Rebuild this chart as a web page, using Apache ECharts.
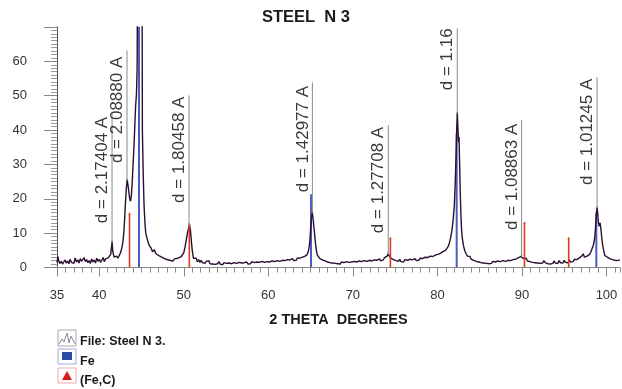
<!DOCTYPE html>
<html>
<head>
<meta charset="utf-8">
<script src="https://cdn.jsdelivr.net/npm/echarts@6/dist/echarts.min.js"></script>
<style>
html,body{margin:0;padding:0;background:#fff;}
#c{width:622px;height:389px;}
</style>
</head>
<body>
<div id="c"></div>
<script>
// ---- DATA ----
const chartTitle = 'STEEL  N 3';
const xName = '2 THETA  DEGREES';
const xTickLabels = [35, 40, 50, 60, 70, 80, 90, 100];
const xMajorTicks = [35, 40, 50, 60, 70, 80, 90, 100];

// measured scan (2theta, intensity)
const scan = [
[35.0,1.4],[35.1,3.2],[35.2,2.0],[35.35,1.2],[35.5,1.8],[35.65,1.0],[35.8,1.6],[35.95,2.2],[36.1,1.3],[36.25,1.9],[36.4,1.1],[36.55,2.4],[36.7,1.5],[36.85,1.9],[37.0,1.2],[37.15,2.8],[37.3,1.6],[37.45,2.2],[37.6,1.3],[37.75,2.6],[37.9,1.8],[38.05,1.4],[38.2,2.9],[38.35,1.7],[38.5,2.3],[38.65,1.4],[38.8,2.0],[38.95,1.2],[39.1,2.5],[39.25,1.6],[39.4,2.2],[39.55,1.3],[39.7,2.7],[39.85,1.8],[40.0,2.4],[40.15,1.5],[40.3,2.1],[40.45,2.9],[40.6,1.7],[40.75,2.5],[40.9,2.0],[41.05,2.8],[41.2,2.3],[41.35,3.8],[41.45,6.0],[41.52,7.5],[41.6,4.6],[41.75,3.0],[41.9,2.6],[42.05,3.3],[42.2,2.7],[42.35,3.5],[42.5,4.2],[42.6,5.0],[42.7,6.0],[42.8,7.5],[42.9,10.0],[43.0,14.0],[43.1,19.0],[43.2,23.0],[43.3,25.5],[43.4,24.0],[43.5,22.0],[43.6,20.0],[43.7,19.3],[43.8,21.0],[43.9,25.0],[44.0,30.0],[44.1,35.0],[44.2,41.0],[44.3,47.0],[44.4,50.5],[44.48,58.0],[44.55,100],[44.8,104],[45.05,100],[45.1,40.0],[45.2,27.0],[45.3,18.0],[45.4,13.0],[45.5,10.0],[45.7,8.0],[45.9,6.5],[46.1,5.8],[46.3,4.6],[46.5,5.2],[46.7,4.0],[46.9,4.4],[47.1,3.4],[47.3,3.8],[47.5,2.9],[47.7,3.3],[47.9,2.4],[48.1,2.9],[48.3,2.1],[48.5,2.6],[48.7,1.9],[48.9,2.5],[49.1,2.0],[49.3,2.7],[49.5,2.4],[49.7,3.2],[49.85,3.6],[50.0,4.3],[50.15,6.0],[50.3,8.2],[50.45,10.2],[50.6,11.8],[50.68,12.4],[50.8,10.5],[50.9,7.5],[51.0,5.0],[51.15,2.6],[51.3,2.2],[51.45,2.8],[51.6,1.7],[51.75,2.3],[51.9,1.5],[52.05,2.1],[52.2,1.4],[52.35,1.9],[52.5,1.2],[52.65,1.8],[52.8,1.3],[52.95,2.0],[53.1,1.1],[53.25,1.6],[53.4,1.0],[53.55,1.5],[53.7,0.9],[53.85,1.4],[54.0,1.1],[54.15,1.7],[54.3,1.0],[54.45,1.3],[54.6,0.8],[54.75,1.4],[54.9,1.0],[55.05,1.2],[55.2,0.8],[55.35,1.3],[55.5,0.9],[55.65,1.1],[55.8,0.8],[55.95,1.4],[56.1,1.0],[56.25,1.2],[56.4,0.9],[56.55,1.5],[56.7,1.0],[56.85,1.3],[57.0,0.9],[57.15,1.4],[57.3,1.1],[57.45,1.6],[57.6,1.0],[57.75,1.3],[57.9,1.1],[58.05,1.7],[58.2,1.2],[58.35,1.4],[58.5,1.0],[58.65,1.6],[58.8,1.2],[58.95,1.5],[59.1,1.1],[59.25,1.8],[59.4,1.3],[59.55,1.5],[59.7,1.1],[59.85,1.7],[60.0,1.3],[60.15,1.6],[60.3,1.2],[60.45,1.9],[60.6,1.4],[60.75,1.7],[60.9,1.3],[61.05,2.0],[61.2,1.5],[61.35,1.8],[61.5,1.4],[61.65,2.1],[61.8,1.6],[61.95,2.0],[62.1,1.7],[62.25,2.3],[62.4,1.8],[62.55,2.2],[62.7,1.9],[62.85,2.6],[63.0,2.0],[63.15,2.4],[63.3,2.1],[63.45,2.8],[63.6,2.3],[63.75,2.7],[63.9,2.4],[64.05,3.0],[64.2,2.7],[64.35,3.3],[64.5,3.2],[64.6,3.8],[64.7,4.5],[64.8,5.5],[64.9,7.5],[65.0,11.0],[65.1,14.5],[65.2,16.0],[65.3,14.0],[65.4,11.5],[65.5,9.0],[65.6,6.5],[65.7,4.7],[65.8,3.6],[65.95,3.1],[66.1,2.6],[66.25,3.0],[66.4,2.2],[66.55,2.6],[66.7,1.9],[66.85,2.3],[67.0,1.6],[67.15,2.0],[67.3,1.4],[67.45,1.9],[67.6,1.3],[67.75,1.7],[67.9,1.2],[68.05,1.6],[68.2,1.1],[68.35,1.5],[68.5,1.0],[68.65,1.6],[68.8,1.2],[68.95,1.4],[69.1,1.1],[69.25,1.7],[69.4,1.2],[69.55,1.5],[69.7,1.1],[69.85,1.6],[70.0,1.2],[70.15,1.8],[70.3,1.3],[70.45,1.6],[70.6,1.2],[70.75,1.9],[70.9,1.4],[71.05,1.7],[71.2,1.3],[71.35,2.0],[71.5,1.5],[71.65,1.8],[71.8,1.4],[71.95,2.1],[72.1,1.6],[72.25,1.9],[72.4,1.5],[72.55,2.2],[72.7,1.7],[72.85,2.1],[73.0,1.8],[73.15,2.5],[73.3,1.9],[73.45,2.4],[73.6,2.2],[73.75,2.9],[73.9,2.6],[74.05,3.3],[74.15,3.9],[74.25,4.2],[74.35,3.6],[74.5,2.7],[74.65,3.2],[74.8,2.3],[74.95,2.8],[75.1,2.0],[75.25,2.5],[75.4,1.8],[75.55,2.4],[75.7,1.7],[75.85,2.2],[76.0,1.6],[76.15,2.3],[76.3,1.8],[76.45,2.1],[76.6,1.6],[76.75,2.4],[76.9,1.9],[77.05,2.2],[77.2,1.8],[77.35,2.6],[77.5,2.0],[77.65,2.4],[77.8,2.1],[77.95,2.7],[78.1,2.2],[78.25,2.6],[78.4,2.3],[78.55,3.0],[78.7,2.5],[78.85,2.9],[79.0,2.6],[79.15,3.3],[79.3,2.8],[79.45,3.2],[79.6,3.0],[79.75,3.6],[79.9,3.2],[80.05,3.8],[80.2,3.5],[80.35,4.1],[80.5,3.9],[80.65,4.6],[80.8,4.4],[80.95,5.0],[81.1,5.3],[81.25,6.0],[81.4,7.0],[81.55,8.5],[81.7,10.5],[81.85,13.5],[82.0,18.0],[82.1,24.0],[82.2,32.0],[82.28,40.0],[82.35,45.0],[82.42,41.0],[82.5,36.5],[82.56,38.0],[82.62,31.0],[82.7,22.0],[82.78,15.5],[82.86,11.0],[82.95,8.5],[83.1,6.2],[83.25,4.8],[83.4,4.0],[83.55,3.3],[83.7,2.9],[83.85,3.2],[84.0,2.4],[84.15,2.8],[84.3,2.1],[84.45,2.5],[84.6,1.8],[84.75,2.2],[84.9,1.6],[85.05,2.0],[85.2,1.4],[85.35,1.9],[85.5,1.3],[85.65,1.7],[85.8,1.2],[85.95,1.6],[86.1,1.1],[86.25,1.5],[86.4,1.2],[86.55,1.8],[86.7,1.3],[86.85,1.6],[87.0,1.2],[87.15,1.9],[87.3,1.4],[87.45,1.7],[87.6,1.3],[87.75,2.0],[87.9,1.5],[88.05,1.8],[88.2,1.4],[88.35,2.1],[88.5,1.6],[88.65,2.0],[88.8,1.7],[88.95,2.3],[89.1,1.9],[89.25,2.4],[89.4,2.1],[89.55,2.8],[89.7,2.6],[89.85,3.2],[89.96,3.6],[90.05,3.3],[90.2,2.6],[90.35,2.2],[90.5,2.7],[90.65,1.9],[90.8,2.4],[90.95,1.7],[91.1,2.2],[91.25,1.5],[91.4,2.0],[91.55,1.4],[91.7,1.9],[91.85,1.3],[92.0,1.8],[92.15,1.2],[92.3,1.7],[92.45,1.3],[92.6,2.0],[92.75,1.4],[92.9,1.8],[93.05,1.1],[93.2,1.6],[93.35,1.0],[93.5,1.5],[93.65,1.2],[93.8,1.9],[93.95,1.3],[94.1,1.7],[94.25,1.2],[94.4,2.0],[94.55,1.4],[94.7,1.8],[94.85,1.3],[95.0,2.1],[95.15,1.5],[95.3,1.9],[95.45,1.4],[95.6,2.2],[95.75,1.6],[95.9,2.0],[96.05,1.7],[96.2,2.4],[96.35,1.9],[96.5,2.3],[96.65,2.0],[96.8,2.8],[96.95,2.4],[97.1,3.4],[97.25,4.0],[97.4,3.0],[97.55,2.8],[97.7,3.3],[97.85,3.0],[98.0,3.8],[98.15,4.5],[98.3,5.5],[98.45,6.5],[98.6,8.5],[98.7,11.5],[98.8,15.5],[98.89,17.5],[98.97,15.5],[99.05,13.0],[99.15,12.0],[99.25,13.0],[99.35,11.0],[99.45,8.5],[99.55,6.5],[99.65,5.2],[99.8,3.5],[99.95,4.0],[100.1,3.0],[100.25,3.4],[100.4,2.6],[100.55,3.0],[100.7,2.3],[100.85,2.8],[101.0,2.1],[101.15,2.6],[101.3,2.0],[101.45,2.4],[101.6,2.2]
];

// reference sticks
const feTheta  = [44.70, 65.05, 82.28, 98.80];
const feHeight = [100, 21.3, 39, 16];
const fecTheta  = [43.58, 50.65, 74.44, 90.30, 95.53];
const fecHeight = [15.5, 12.5, 8.4, 12.8, 8.4];

// d-spacing annotations
const dLabels   = ['d = 2.17404 A','d = 2.08880 A','d = 1.80458 A','d = 1.42977 A','d = 1.27708 A','d = 1.16','d = 1.08863 A','d = 1.01245 A'];
const peakTheta = [41.51, 43.28, 50.61, 65.21, 74.19, 82.35, 89.96, 98.89];
const peakTop   = [7.5, 25.5, 12.4, 16.0, 4.2, 45.0, 3.6, 17.5];
const labelBase = [12.9, 30.4, 18.8, 21.9, 10.0, 51.6, 10.9, 24.0];
const lineTop   = [44.9, 63.2, 50.1, 53.9, 41.4, 69.6, 42.9, 55.4];

const legendNames = ['File: Steel N 3.', 'Fe', '(Fe,C)'];

// ---- CHART ----
const FONT = '"Liberation Sans", Arial, Helvetica, sans-serif';
const chart = echarts.init(document.getElementById('c'), null, {renderer: 'canvas'});

const feData = feTheta.map((t, i) => [t, feHeight[i]]);
const fecData = fecTheta.map((t, i) => [t, fecHeight[i]]);
const annData = peakTheta.map((t, i) => [t, peakTop[i], lineTop[i], labelBase[i], i]);

function stickRenderer(color, width, withTri) {
  return function (params, api) {
    const x = api.value(0), h = api.value(1);
    const p0 = api.coord([x, 0]);
    const p1 = api.coord([x, h]);
    const children = [{
      type: 'line',
      shape: {x1: p0[0], y1: p0[1], x2: p1[0], y2: p1[1]},
      style: {stroke: color, lineWidth: width}
    }];
    if (withTri) {
      children.push({
        type: 'polygon',
        shape: {points: [[p1[0], p1[1] - 2], [p1[0] - 1.3, p1[1] + 0.5], [p1[0] + 1.3, p1[1] + 0.5]]},
        style: {fill: color}
      });
    }
    return {type: 'group', children: children};
  };
}

const option = {
  backgroundColor: '#ffffff',
  animation: false,
  title: {
    text: chartTitle,
    left: 306, top: 9, textAlign: 'center', padding: 0,
    textStyle: {fontFamily: FONT, fontSize: 16.5, fontWeight: 'bold', color: '#1a1a1a'}
  },
  grid: {left: 57, right: 2, top: 27, bottom: 121.5, containLabel: false},
  xAxis: [{
    type: 'value', min: 35, max: 101.6, interval: 1,
    name: xName, nameLocation: 'middle', nameGap: 45,
    nameTextStyle: {fontFamily: FONT, fontSize: 14.5, fontWeight: 'bold', color: '#1a1a1a'},
    axisLine: {show: true, lineStyle: {color: '#8a8a8a', width: 1}},
    axisTick: {show: true, length: 5, lineStyle: {color: '#8a8a8a'}},
    axisLabel: {customValues: xTickLabels, margin: 21, fontFamily: FONT, fontSize: 13, color: '#333'},
    splitLine: {show: false}
  }, {
    type: 'value', min: 35, max: 101.6, position: 'bottom', gridIndex: 0,
    axisLine: {show: false},
    axisTick: {show: true, customValues: xMajorTicks, length: 9, lineStyle: {color: '#8a8a8a'}},
    axisLabel: {show: false},
    splitLine: {show: false}
  }],
  yAxis: {
    type: 'value', min: 0, max: 70, interval: 10,
    axisLine: {show: true, lineStyle: {color: '#555', width: 1}},
    axisTick: {show: true, length: 13, lineStyle: {color: '#8a8a8a'}},
    minorTick: {show: true, splitNumber: 10, length: 6, lineStyle: {color: '#9a9a9a'}},
    axisLabel: {margin: 30, fontFamily: FONT, fontSize: 13, color: '#333',
      formatter: v => (v >= 70 ? '' : String(v))},
    splitLine: {show: false}, minorSplitLine: {show: false}
  },
  series: [
    {
      type: 'custom', name: 'Fe', clip: true, z: 2,
      renderItem: stickRenderer('#4a5cc0', 2, false),
      data: feData
    },
    {
      type: 'custom', name: '(Fe,C)', clip: true, z: 4,
      renderItem: stickRenderer('#e03a26', 1.6, true),
      data: fecData
    },
    {
      type: 'line', name: 'File: Steel N 3.', data: scan, showSymbol: false, clip: true, z: 3,
      lineStyle: {color: '#2a0f30', width: 1.4}, itemStyle: {color: '#2a0f30'}
    },
    {
      type: 'custom', name: 'ann', clip: false, z: 5,
      renderItem: function (params, api) {
        const x = api.value(0);
        const pb = api.coord([x, api.value(1)]);
        const pt = api.coord([x, api.value(2)]);
        const pl = api.coord([x, api.value(3)]);
        const idx = api.value(4);
        return {
          type: 'group',
          children: [{
            type: 'line',
            shape: {x1: pb[0], y1: pb[1], x2: pt[0], y2: pt[1]},
            style: {stroke: '#8a8a8a', lineWidth: 1}
          }, {
            type: 'polygon',
            shape: {points: [[pb[0], pb[1] - 2], [pb[0] - 1.3, pb[1] + 0.5], [pb[0] + 1.3, pb[1] + 0.5]]},
            style: {fill: '#8a8a8a'}
          }, {
            type: 'text',
            x: pl[0] - 1, y: pl[1], rotation: Math.PI / 2,
            style: {text: dLabels[idx], font: '17px ' + FONT, fill: '#3a3a3a',
              align: 'left', verticalAlign: 'bottom'}
          }]
        };
      },
      data: annData
    }
  ],
  graphic: [
    // legend row 1
    {type: 'rect', shape: {x: 58, y: 330, width: 18, height: 16}, style: {fill: '#fff', stroke: '#a8a8b0', lineWidth: 1}},
    {type: 'polyline', shape: {points: [[59, 344], [62, 339], [64, 342], [67, 333], [69, 343], [71, 336], [75, 344]]}, style: {stroke: '#8a8a9a', lineWidth: 1, fill: null}},
    {type: 'text', x: 80, y: 342, style: {text: legendNames[0], font: 'bold 12.5px ' + FONT, fill: '#1a1a1a', verticalAlign: 'middle'}},
    // legend row 2
    {type: 'rect', shape: {x: 58, y: 349, width: 18, height: 15}, style: {fill: '#fff', stroke: '#a0a8d8', lineWidth: 1}},
    {type: 'rect', shape: {x: 62, y: 352, width: 10, height: 8}, style: {fill: '#2a4aa8'}},
    {type: 'text', x: 80, y: 361.5, style: {text: legendNames[1], font: 'bold 12.5px ' + FONT, fill: '#1a1a1a', verticalAlign: 'middle'}},
    // legend row 3
    {type: 'rect', shape: {x: 58, y: 368, width: 18, height: 15}, style: {fill: '#fff', stroke: '#f0a8a8', lineWidth: 1}},
    {type: 'polygon', shape: {points: [[67, 371], [62, 380], [72, 380]]}, style: {fill: '#d81818'}},
    {type: 'text', x: 80, y: 381, style: {text: legendNames[2], font: 'bold 12.5px ' + FONT, fill: '#1a1a1a', verticalAlign: 'middle'}}
  ]
};
chart.setOption(option);
</script>
</body>
</html>
